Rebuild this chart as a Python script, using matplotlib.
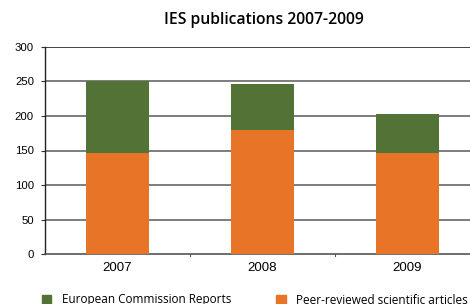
import matplotlib
matplotlib.use("Agg")
import matplotlib.pyplot as plt
from matplotlib.patches import Patch

years = ["2007", "2008", "2009"]
peer_reviewed = [147, 180, 147]
ec_reports = [103, 67, 56]
yticks = [0, 50, 100, 150, 200, 250, 300]

green = "#527236"
orange = "#E87427"

fig = plt.figure(figsize=(4.7, 3.04), dpi=100)
ax = fig.add_axes([45/470, 50/304, 435/470, 207/304])

x = list(range(len(years)))
ax.bar(x, peer_reviewed, width=0.44, color=orange, zorder=3)
ax.bar(x, ec_reports, width=0.44, bottom=peer_reviewed, color=green, zorder=3)

ax.set_xlim(-0.5, 2.5)
ax.set_ylim(0, 300)
ax.set_yticks(yticks)
ax.set_yticklabels([str(v) for v in yticks], fontfamily="Liberation Sans", fontsize=8.2)
ax.set_xticks(x)
ax.set_xticklabels(years, fontfamily="Liberation Sans", fontsize=9.5)
ax.tick_params(axis="x", length=0, pad=6)
ax.tick_params(axis="y", length=3, width=0.8, color="#333333", pad=5)
for xb in [0.5, 1.5]:
    ax.plot([xb, xb], [0, -3], color="#555555", lw=0.8, clip_on=False)

for v in yticks[1:-1]:
    ax.axhline(v, color="#666666", lw=1.2, zorder=1)
ax.axhline(300, color="#222222", lw=1.2, zorder=1)

for s in ["top", "right"]:
    ax.spines[s].set_visible(False)
ax.spines["left"].set_color("#222222")
ax.spines["left"].set_linewidth(1.0)
ax.spines["bottom"].set_color("#555555")
ax.spines["bottom"].set_linewidth(1.2)

fig.text(264/470, 1 - 20/304, "IES publications 2007-2009", ha="center", va="center",
         fontfamily="Open Sans", fontweight="semibold", fontsize=11.3)

handles = [Patch(color=green, label="European Commission Reports"),
           Patch(color=orange, label="Peer-reviewed scientific articles")]
fig.legend(handles=handles, ncol=2, loc="center left", bbox_to_anchor=(42/470, 1 - 300/304),
           frameon=False, prop={"family": "Open Sans", "size": 8.5},
           handlelength=0.8, handleheight=0.8, handletextpad=0.9, columnspacing=3.8,
           borderaxespad=0, borderpad=0)

fig.savefig("out.png", dpi=100)
